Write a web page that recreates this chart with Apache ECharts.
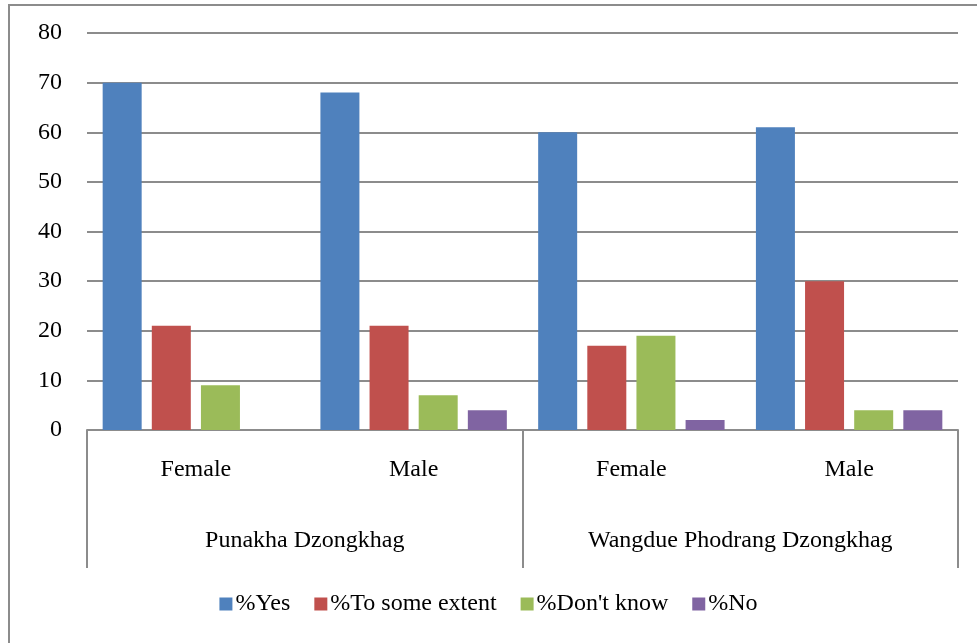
<!DOCTYPE html>
<html>
<head>
<meta charset="utf-8">
<script src="https://cdn.jsdelivr.net/npm/echarts@6/dist/echarts.min.js"></script>
<style>
  html, body { margin: 0; padding: 0; background: #fff; }
  #chart { width: 977px; height: 643px; }
</style>
</head>
<body>
<div id="chart"></div>
<script>
// Survey responses by district and sex (percent)
const districts = ['Punakha Dzongkhag', 'Wangdue Phodrang Dzongkhag'];
const sexes = ['Female', 'Male', 'Female', 'Male'];
const yesValues = [70, 68, 60, 61];
const someExtentValues = [21, 21, 17, 30];
const dontKnowValues = [9, 7, 19, 4];
const noValues = [0, 4, 2, 4];
const seriesNames = ['%Yes', '%To some extent', "%Don't know", '%No'];
const yTicks = [0, 10, 20, 30, 40, 50, 60, 70, 80];

const colors = ['#4f81bd', '#c0504d', '#9bbb59', '#8064a2'];
const font = '"Liberation Serif", "Times New Roman", serif';
const fontSize = 24;
const lineGray = '#8c8c8c';

const chart = echarts.init(document.getElementById('chart'));

const seriesData = [yesValues, someExtentValues, dontKnowValues, noValues];

chart.setOption({
  animation: false,
  color: colors,
  textStyle: { fontFamily: font, color: '#000' },
  grid: { left: 87, right: 19, top: 33, bottom: 213, containLabel: false },
  legend: {
    bottom: 22,
    left: 'center',
    itemWidth: 13,
    itemHeight: 13,
    itemGap: 24,
    icon: 'rect',
    textStyle: { fontFamily: font, fontSize: fontSize, color: '#000', padding: [0, 0, 0, -2] },
    data: seriesNames
  },
  xAxis: [
    {
      type: 'category',
      data: sexes,
      position: 'bottom',
      axisLine: { show: true, lineStyle: { color: lineGray, width: 2 } },
      axisTick: { show: false },
      axisLabel: { fontFamily: font, fontSize: fontSize, color: '#000', margin: 28 }
    },
    {
      type: 'category',
      data: districts,
      position: 'bottom',
      axisLine: { show: false },
      axisTick: { show: true, length: 138, lineStyle: { color: lineGray, width: 2 } },
      axisLabel: { fontFamily: font, fontSize: fontSize, color: '#000', margin: 99 }
    }
  ],
  yAxis: {
    type: 'value',
    min: yTicks[0],
    max: yTicks[yTicks.length - 1],
    interval: 10,
    axisLine: { show: false },
    axisTick: { show: false },
    axisLabel: { fontFamily: font, fontSize: fontSize, color: '#000', margin: 25 },
    splitLine: { lineStyle: { color: lineGray, width: 2 } }
  },
  series: seriesNames.map((name, i) => ({
    name: name,
    type: 'bar',
    xAxisIndex: 0,
    data: seriesData[i],
    barWidth: 39,
    barGap: '26%',
    itemStyle: { color: colors[i] }
  })),
  graphic: [
    {
      type: 'rect',
      shape: { x: 9, y: 5, width: 1000, height: 700 },
      style: { fill: 'none', stroke: lineGray, lineWidth: 2 },
      silent: true,
      z: -1
    }
  ]
});
</script>
</body>
</html>
